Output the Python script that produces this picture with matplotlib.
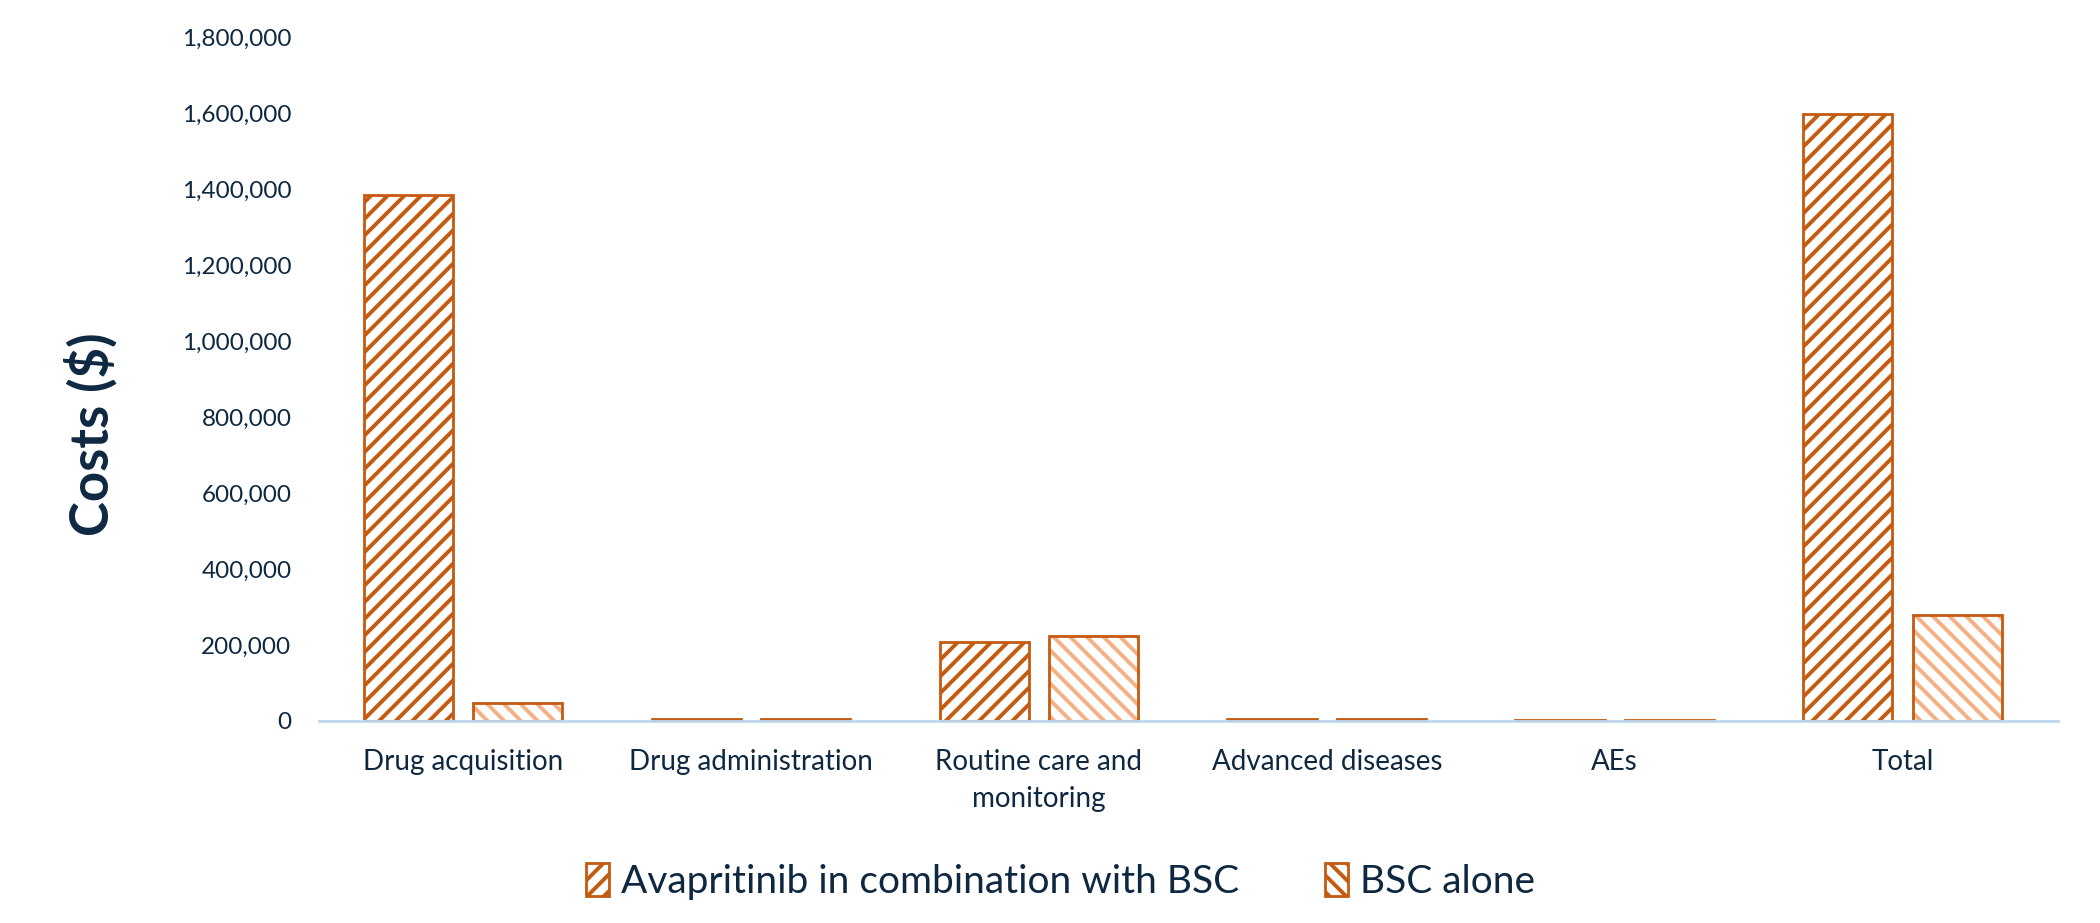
import numpy as np
import matplotlib.pyplot as plt
from matplotlib.patches import Patch
from matplotlib.ticker import FuncFormatter

categories = ["Drug acquisition", "Drug administration", "Routine care and\nmonitoring",
              "Advanced diseases", "AEs", "Total"]
avapritinib = [1386000, 4000, 209000, 4000, 3000, 1600000]
bsc_alone = [48000, 4000, 223000, 4000, 3000, 278000]
series_names = ["Avapritinib in combination with BSC", "BSC alone"]

dark = "#C55A11"
light = "#F4B183"
text_col = "#0E2841"

plt.rcParams['font.family'] = ['Lato', 'DejaVu Sans']
plt.rcParams['hatch.linewidth'] = 2.8

fig = plt.figure(figsize=(21, 9.23), dpi=100)
ax = fig.add_axes([0.152, 0.219, 0.828, 0.740])

x = np.arange(len(categories))
w = 0.31
off = 0.19

ax.bar(x - off, avapritinib, w, facecolor="white", edgecolor=dark, hatch="//", linewidth=2)
# light hatch, dark outline for BSC
ax.bar(x + off, bsc_alone, w, facecolor="white", edgecolor=light, hatch="\\\\", linewidth=0)
ax.bar(x + off, bsc_alone, w, facecolor="none", edgecolor=dark, linewidth=2)

ax.set_xlim(-0.5, len(categories) - 0.46)
ax.set_ylim(0, 1800000)
ax.set_yticks(np.arange(0, 1800001, 200000))
ax.yaxis.set_major_formatter(FuncFormatter(lambda v, p: "{:,.0f}".format(v)))
ax.set_xticks(x)
ax.set_xticklabels(categories, linespacing=1.55)
ax.tick_params(axis='x', length=0, labelsize=20, colors=text_col, pad=20)
ax.tick_params(axis='y', length=0, labelsize=17.5, colors=text_col, pad=20)

for s in ["top", "right", "left"]:
    ax.spines[s].set_visible(False)
ax.spines["bottom"].set_color("#BDD7EE")
ax.spines["bottom"].set_linewidth(2)

fig.text(0.043, 0.53, "Costs ($)", rotation=90, ha="center", va="center",
         fontsize=38, fontweight="bold", color=text_col)

handles = [Patch(facecolor="white", edgecolor=dark, hatch="//", linewidth=2),
           Patch(facecolor="white", edgecolor=dark, hatch="\\\\", linewidth=2)]
leg = fig.legend(handles, series_names, loc="center", bbox_to_anchor=(0.505, 0.045),
                 ncol=2, frameon=False, fontsize=28, handlelength=0.6, handleheight=0.95,
                 handletextpad=0.3, columnspacing=2.2)
for t in leg.get_texts():
    t.set_color(text_col)

fig.savefig("out.png", dpi=100)
